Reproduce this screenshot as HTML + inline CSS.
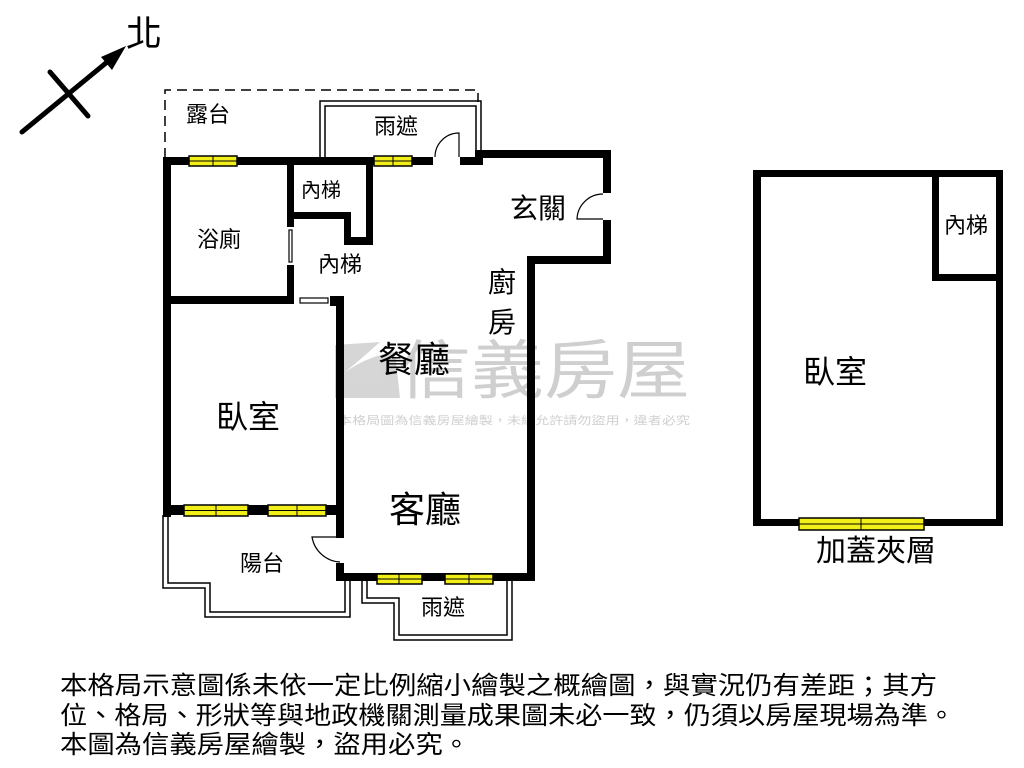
<!DOCTYPE html>
<html><head><meta charset="utf-8"><style>
html,body{margin:0;padding:0;background:#fff;}
svg{display:block;}
text{font-family:"Liberation Sans","Noto Sans CJK TC",sans-serif;}
</style></head><body>
<svg width="1024" height="768" viewBox="0 0 1024 768" xmlns="http://www.w3.org/2000/svg">
<!-- watermark -->
<g opacity="0.4">
<path d="M335 398 L335 345 L380 342 Q360 360 345 372 Q370 355 395 352 L400 398 Z" fill="#999"/>
<text x="398" y="393" font-size="64" fill="#888" textLength="292" lengthAdjust="spacingAndGlyphs">信義房屋</text>
<text x="338" y="424" font-size="11" fill="#888" textLength="352" lengthAdjust="spacingAndGlyphs">本格局圖為信義房屋繪製，未經允許請勿盜用，違者必究</text>
</g>
<!-- north arrow -->
<g stroke="#000" stroke-width="5" stroke-linecap="round" fill="none">
<line x1="22" y1="132" x2="112" y2="58"/>
<line x1="50" y1="72" x2="88" y2="116"/>
</g>
<polygon points="126,46 101,57 112,70" fill="#000"/>
<text x="126" y="46" font-size="36" fill="#000">北</text>
<!-- dashed terrace -->
<path d="M165 158 L165 90 L478 90 L478 102" fill="none" stroke="#000" stroke-width="1.5" stroke-dasharray="10,6"/>
<!-- top canopy double line -->
<path d="M320 157 L320 101 L481 101 L481 150" fill="none" stroke="#000" stroke-width="1.5"/>
<path d="M325 157 L325 106 L476 106 L476 150" fill="none" stroke="#000" stroke-width="1.5"/>
<!-- bottom balcony double line -->
<path d="M163 515 L163 588 L205 588 L205 617 L350 617 L350 581" fill="none" stroke="#000" stroke-width="1.5"/>
<path d="M168 515 L168 583 L210 583 L210 612 L345 612 L345 581" fill="none" stroke="#000" stroke-width="1.5"/>
<path d="M362 581 L362 603 L394 603 L394 640 L512 640 L512 581" fill="none" stroke="#000" stroke-width="1.5"/>
<path d="M367 581 L367 598 L399 598 L399 635 L507 635 L507 581" fill="none" stroke="#000" stroke-width="1.5"/>
<!-- walls -->
<g fill="#000">
<rect x="163" y="157" width="8" height="360"/>
<rect x="163" y="157" width="270" height="8"/>
<rect x="460" y="157" width="23" height="8"/>
<rect x="475" y="150" width="136" height="8"/>
<rect x="603" y="150" width="8" height="43"/>
<rect x="603" y="220" width="8" height="44"/>
<rect x="527" y="256" width="84" height="8"/>
<rect x="527" y="256" width="8" height="325"/>
<rect x="336" y="573" width="199" height="8"/>
<rect x="336" y="298" width="8" height="240"/>
<rect x="336" y="563" width="8" height="18"/>
<rect x="163" y="505" width="181" height="10"/>
<rect x="163" y="296" width="131" height="8"/>
<rect x="287" y="157" width="7" height="70"/>
<rect x="287" y="265" width="7" height="38"/>
<rect x="287" y="212" width="63" height="7"/>
<rect x="344" y="212" width="7" height="33"/>
<rect x="344" y="237" width="28" height="8"/>
<rect x="366" y="157" width="7" height="88"/>
<rect x="330" y="296" width="14" height="10"/>
<!-- right plan -->
<rect x="753" y="170" width="250" height="7"/>
<rect x="753" y="170" width="8" height="356"/>
<rect x="996" y="170" width="7" height="356"/>
<rect x="753" y="519" width="250" height="7"/>
<rect x="932" y="170" width="7" height="111"/>
<rect x="932" y="274" width="71" height="7"/>
</g>
<!-- doors -->
<g fill="none" stroke="#000" stroke-width="1.2">
<path d="M459 157 L459 133 A24 24 0 0 0 435 157"/>
<path d="M603 194 A26 26 0 0 0 577 219 L603 219"/>
<path d="M340 537 L312 537 A30 30 0 0 0 340 562"/>
<rect x="289" y="230" width="3" height="32"/>
<rect x="300" y="298" width="28" height="5"/>
</g>
<!-- windows -->
<g stroke="#000" stroke-width="1.5" fill="#f2ee1a">
<rect x="189" y="156" width="48" height="10"/>
<rect x="374" y="156" width="38" height="10"/>
<rect x="184" y="505" width="64" height="11"/>
<rect x="268" y="505" width="58" height="11"/>
<rect x="377" y="574" width="45" height="10"/>
<rect x="445" y="574" width="48" height="10"/>
<rect x="799" y="518" width="125" height="12"/>
</g>
<g stroke="#000" stroke-width="1">
<line x1="189" y1="161" x2="237" y2="161"/><line x1="213" y1="156" x2="213" y2="166"/>
<line x1="374" y1="161" x2="412" y2="161"/><line x1="393" y1="156" x2="393" y2="166"/>
<line x1="184" y1="510.5" x2="248" y2="510.5"/><line x1="216" y1="505" x2="216" y2="516"/>
<line x1="268" y1="510.5" x2="326" y2="510.5"/><line x1="297" y1="505" x2="297" y2="516"/>
<line x1="377" y1="579" x2="422" y2="579"/><line x1="399" y1="574" x2="399" y2="584"/>
<line x1="445" y1="579" x2="493" y2="579"/><line x1="469" y1="574" x2="469" y2="584"/>
<line x1="799" y1="524" x2="924" y2="524"/><line x1="861" y1="518" x2="861" y2="530"/>
</g>
<!-- labels -->
<g fill="#000">
<text x="186" y="122" font-size="22">露台</text>
<text x="374" y="134" font-size="22">雨遮</text>
<text x="301" y="197" font-size="20">內梯</text>
<text x="510" y="218" font-size="28">玄關</text>
<text x="197" y="247" font-size="22">浴廁</text>
<text x="318" y="272" font-size="22">內梯</text>
<text x="488" y="292" font-size="28">廚</text>
<text x="488" y="332" font-size="28">房</text>
<text x="378" y="372" font-size="36">餐廳</text>
<text x="216" y="428" font-size="32">臥室</text>
<text x="389" y="522" font-size="36">客廳</text>
<text x="240" y="571" font-size="22">陽台</text>
<text x="421" y="615" font-size="22">雨遮</text>
<text x="944" y="233" font-size="22">內梯</text>
<text x="803" y="383" font-size="32">臥室</text>
<text x="816" y="561" font-size="30">加蓋夾層</text>
<text x="60" y="694" font-size="25" textLength="877" lengthAdjust="spacingAndGlyphs">本格局示意圖係未依一定比例縮小繪製之概繪圖，與實況仍有差距；其方</text>
<text x="60" y="724" font-size="25" textLength="895" lengthAdjust="spacingAndGlyphs">位、格局、形狀等與地政機關測量成果圖未必一致，仍須以房屋現場為準。</text>
<text x="60" y="753" font-size="25" textLength="410" lengthAdjust="spacingAndGlyphs">本圖為信義房屋繪製，盜用必究。</text>
</g>
</svg>
</body></html>
